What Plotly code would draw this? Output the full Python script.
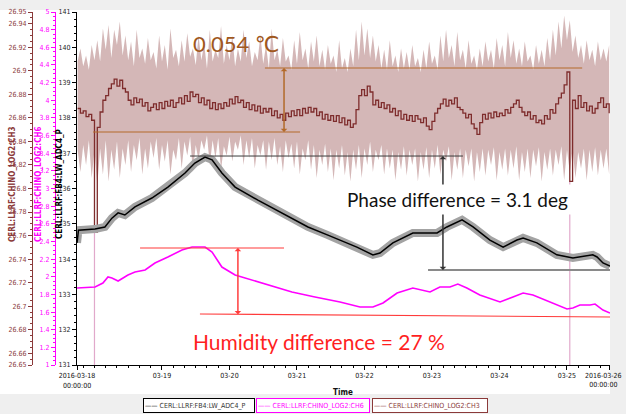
import numpy as np
import pandas as pd
import plotly.graph_objects as go

# ---------------- data ----------------
T0 = pd.Timestamp("2016-03-18 00:00:00")
X_START = "2016-03-17 17:47:00"
X_END = "2016-03-25 15:18:00"

x_tickvals = ["2016-03-17 17:48:00", "2016-03-19", "2016-03-20", "2016-03-21", "2016-03-22",
              "2016-03-23", "2016-03-24", "2016-03-25", "2016-03-25 15:17:00"]
x_ticktext = ["2016-03-18<br>00:00:00", "03-19", "03-20", "03-21", "03-22",
              "03-23", "03-24", "03-25", ""]
x_end_label = "2016-03-26<br>00:00:00"

temp_tickvals = [26.65, 26.66, 26.68, 26.70, 26.72, 26.74, 26.76, 26.78, 26.80, 26.82,
                 26.84, 26.86, 26.88, 26.90, 26.92, 26.94, 26.95]
temp_ticktext = ["26.65", "26.66", "26.68", "26.7", "26.72", "26.74", "26.76", "26.78", "26.8",
                 "26.82", "26.84", "26.86", "26.88", "26.9", "26.92", "26.94", "26.95"]
hum_tickvals = [1, 1.2, 1.4, 1.6, 1.8, 2, 2.2, 2.4, 2.6, 2.8, 3, 3.2, 3.4, 3.6, 3.8, 4,
                4.2, 4.4, 4.6, 4.8, 5]
hum_ticktext = ["1", "1.2", "1.4", "1.6", "1.8", "2", "2.2", "2.4", "2.6", "2.8", "3", "3.2",
                "3.4", "3.6", "3.8", "4", "4.2", "4.4", "4.6", "4.8", "5"]
phase_tickvals = [131, 132, 133, 134, 135, 136, 137, 138, 139, 140, 141]
phase_ticktext = ["131", "132", "133", "134", "135", "136", "137", "138", "139", "140", "141"]

# CH3 temperature, hourly samples from 03-17 18:00 (hour -6) to 03-25 15:00 (hour 183)
temp_hours = list(range(-6, 184))
temp_mean = [
    26.868, 26.864, 26.866, 26.861, 26.863, 26.858, 26.763, 26.852, 26.865, 26.875,
    26.879, 26.885, 26.889, 26.893, 26.887, 26.892, 26.885, 26.882, 26.875, 26.871,
    26.877, 26.873, 26.876, 26.870, 26.873, 26.866, 26.869, 26.872, 26.867, 26.873,
    26.868, 26.874, 26.870, 26.875, 26.869, 26.873, 26.877, 26.872, 26.879, 26.874,
    26.882, 26.878, 26.880, 26.873, 26.877, 26.871, 26.875, 26.868, 26.873, 26.867,
    26.872, 26.868, 26.873, 26.870, 26.876, 26.872, 26.878, 26.873, 26.875, 26.869,
    26.873, 26.867, 26.871, 26.866, 26.870, 26.864, 26.868, 26.865, 26.868, 26.862,
    26.866, 26.860, 26.863, 26.858, 26.864, 26.861, 26.866, 26.862, 26.867, 26.862,
    26.868, 26.864, 26.869, 26.865, 26.868, 26.862, 26.865, 26.859, 26.863, 26.858,
    26.862, 26.857, 26.862, 26.856, 26.860, 26.854, 26.858, 26.852, 26.855, 26.867,
    26.879, 26.884, 26.879, 26.887, 26.882, 26.871, 26.875, 26.869, 26.873, 26.868,
    26.871, 26.865, 26.868, 26.862, 26.866, 26.859, 26.863, 26.858, 26.862, 26.857,
    26.862, 26.859, 26.856, 26.860, 26.853, 26.850, 26.857, 26.864, 26.868, 26.872,
    26.876, 26.870, 26.875, 26.872, 26.877, 26.869, 26.867, 26.864, 26.860, 26.863,
    26.855, 26.851, 26.846, 26.856, 26.863, 26.859, 26.864, 26.860, 26.865, 26.861,
    26.864, 26.862, 26.867, 26.864, 26.869, 26.872, 26.875, 26.869, 26.865, 26.862,
    26.865, 26.859, 26.862, 26.856, 26.858, 26.855, 26.862, 26.859, 26.867, 26.864,
    26.872, 26.877, 26.881, 26.888, 26.899, 26.806, 26.875, 26.868, 26.879, 26.869,
    26.873, 26.866, 26.870, 26.864, 26.868, 26.873, 26.877, 26.869, 26.872, 26.864,
]
temp_max = [
    26.908, 26.919, 26.904, 26.913, 26.901, 26.922, 26.909,
    26.926, 26.908, 26.936, 26.918, 26.939, 26.911, 26.935, 26.922, 26.942, 26.913,
    26.930, 26.909, 26.925, 26.904, 26.935, 26.911, 26.919, 26.906, 26.928, 26.909,
    26.916, 26.902, 26.930, 26.908, 26.922, 26.901, 26.936, 26.911, 26.918, 26.904,
    26.926, 26.908, 26.932, 26.912, 26.919, 26.905, 26.930, 26.909, 26.923, 26.902,
    26.935, 26.908, 26.918, 26.911, 26.938, 26.906, 26.922, 26.909, 26.930, 26.904,
    26.919, 26.908, 26.935, 26.911, 26.925, 26.904, 26.916, 26.909, 26.930, 26.906,
    26.922, 26.902, 26.936, 26.909, 26.918, 26.904, 26.928, 26.908, 26.913, 26.901,
    26.926, 26.906, 26.933, 26.909, 26.919, 26.902, 26.925, 26.908, 26.930, 26.904,
    26.918, 26.901, 26.922, 26.906, 26.913, 26.899, 26.926, 26.902, 26.911, 26.899,
    26.919, 26.904, 26.935, 26.909, 26.942, 26.913, 26.936, 26.911, 26.930, 26.908,
    26.922, 26.902, 26.918, 26.901, 26.926, 26.904, 26.913, 26.899, 26.919, 26.902,
    26.916, 26.901, 26.922, 26.904, 26.911, 26.899, 26.918, 26.902, 26.925, 26.906,
    26.913, 26.901, 26.930, 26.908, 26.935, 26.911, 26.922, 26.904, 26.933, 26.909,
    26.918, 26.902, 26.926, 26.906, 26.913, 26.901, 26.919, 26.904, 26.925, 26.908,
    26.918, 26.902, 26.928, 26.909, 26.922, 26.904, 26.933, 26.911, 26.926, 26.906,
    26.919, 26.904, 26.925, 26.908, 26.913, 26.901, 26.922, 26.906, 26.918, 26.904,
    26.928, 26.909, 26.935, 26.913, 26.942, 26.919, 26.947, 26.926, 26.943, 26.916,
    26.930, 26.911, 26.922, 26.906, 26.926, 26.909, 26.918, 26.904, 26.925, 26.909,
    26.919, 26.908, 26.922,
]
temp_min = [
    26.833, 26.814, 26.837, 26.820, 26.841, 26.809, 26.833,
    26.803, 26.834, 26.812, 26.841, 26.806, 26.833, 26.816, 26.840, 26.809, 26.834,
    26.820, 26.841, 26.814, 26.837, 26.824, 26.843, 26.812, 26.834, 26.817, 26.840,
    26.826, 26.843, 26.816, 26.837, 26.823, 26.841, 26.812, 26.833, 26.824, 26.843,
    26.817, 26.840, 26.828, 26.844, 26.814, 26.837, 26.824, 26.841, 26.833, 26.845,
    26.820, 26.841, 26.826, 26.843, 26.816, 26.836, 26.828, 26.844, 26.823, 26.840,
    26.833, 26.845, 26.820, 26.841, 26.826, 26.843, 26.817, 26.837, 26.828, 26.841,
    26.816, 26.840, 26.824, 26.843, 26.820, 26.836, 26.814, 26.841, 26.826, 26.838,
    26.817, 26.840, 26.812, 26.834, 26.824, 26.841, 26.816, 26.837, 26.809, 26.833,
    26.820, 26.838, 26.814, 26.834, 26.807, 26.833, 26.817, 26.837, 26.811, 26.831,
    26.806, 26.833, 26.816, 26.837, 26.809, 26.834, 26.820, 26.840, 26.814, 26.833,
    26.824, 26.837, 26.812, 26.834, 26.817, 26.833, 26.807, 26.831, 26.816, 26.836,
    26.811, 26.833, 26.820, 26.834, 26.806, 26.831, 26.816, 26.835, 26.809, 26.833,
    26.817, 26.837, 26.812, 26.833, 26.823, 26.836, 26.807, 26.831, 26.816, 26.834,
    26.809, 26.833, 26.819, 26.834, 26.806, 26.831, 26.814, 26.834, 26.811, 26.833,
    26.820, 26.835, 26.807, 26.831, 26.816, 26.834, 26.811, 26.833, 26.817, 26.836,
    26.807, 26.831, 26.814, 26.834, 26.809, 26.833, 26.819, 26.835, 26.806, 26.831,
    26.816, 26.834, 26.811, 26.833, 26.820, 26.836, 26.807, 26.833, 26.814, 26.834,
    26.809, 26.831, 26.817, 26.834, 26.807, 26.833, 26.814, 26.835, 26.811, 26.833,
    26.817, 26.834, 26.812,
]

# FB4 phase (deg)
phase_hours = [-6.2, -5.7, 0.2, 3.7, 6.2, 8.4, 10.8, 14.4, 20.4, 26.1, 32.2, 35.7, 39.3, 41.8,
               45.3, 50.0, 58.1, 66.7, 75.9, 83.0, 88.0, 93.3, 99.0, 101.5, 106.1, 113.2, 121.8,
               125.3, 130.7, 134.6, 140.6, 145.3, 150.2, 152.4, 157.3, 164.4, 170.1, 177.2,
               178.7, 180.8, 183.3]
phase_deg = [134.46, 134.82, 134.85, 134.91, 135.16, 135.31, 135.25, 135.48, 135.73, 136.04,
             136.44, 136.72, 136.89, 136.81, 136.44, 136.04, 135.67, 135.31, 134.91, 134.68,
             134.51, 134.34, 134.12, 134.17, 134.46, 134.74, 134.74, 134.91, 135.11, 134.91,
             134.54, 134.34, 134.54, 134.60, 134.46, 134.12, 134.03, 134.12, 134.06, 133.89,
             133.80]

# CH6 humidity
hum_hours = [-6.2, 0.2, 3.0, 4.8, 6.2, 8.4, 11.9, 14.4, 18.0, 21.5, 26.1, 31.1, 34.7, 39.3,
             41.8, 45.3, 50.0, 56.0, 61.7, 70.2, 78.4, 87.3, 94.4, 99.0, 102.6, 107.6, 113.2,
             119.3, 122.8, 126.4, 129.2, 132.4, 137.0, 144.2, 148.8, 152.4, 155.9, 163.0,
             168.0, 170.1, 172.6, 176.2, 178.0, 180.8, 183.3]
hum_val = [1.873, 1.884, 1.929, 1.997, 1.986, 1.952, 2.020, 2.054, 2.077, 2.156, 2.224, 2.303,
           2.337, 2.337, 2.280, 2.110, 2.020, 1.963, 1.907, 1.827, 1.771, 1.714, 1.657, 1.657,
           1.703, 1.816, 1.873, 1.827, 1.884, 1.884, 1.918, 1.873, 1.793, 1.714, 1.771, 1.816,
           1.793, 1.703, 1.635, 1.646, 1.680, 1.680, 1.691, 1.623, 1.589]

glitch_hours = [0, 169]

assert len(temp_mean) == len(temp_hours) == len(temp_max) == len(temp_min)
assert len(phase_hours) == len(phase_deg)
assert len(hum_hours) == len(hum_val)


def at(h):
    return (T0 + pd.to_timedelta(h, unit="h")).strftime("%Y-%m-%d %H:%M:%S")


def times(hs):
    return [at(h) for h in hs]


# ---------------- styling ----------------
W, H = 626, 414
NARROW = "Liberation Sans Narrow, DejaVu Sans Condensed, Arial Narrow, Liberation Sans, Arial"
TXT = "Lato, Open Sans, DejaVu Sans, sans-serif"
C_T = "#8b3a3a"
C_TLINE = "#7e2c2c"
C_H = "#ff00ff"
C_P = "#000000"


def px(x):
    return x / W


def py(y):
    return 1 - y / H


XD = [px(77), px(610)]
YD = [py(365), py(12)]

fig = go.Figure()

tt = times(temp_hours)
fig.add_trace(go.Scatter(x=tt, y=temp_max, mode="lines", line=dict(width=0),
                         xaxis="x", yaxis="y", hoverinfo="skip"))
fig.add_trace(go.Scatter(x=tt, y=temp_min, mode="lines", line=dict(width=0),
                         fill="tonexty", fillcolor="rgba(160,95,95,0.45)",
                         xaxis="x", yaxis="y", hoverinfo="skip"))
fig.add_trace(go.Scatter(x=tt, y=temp_mean, mode="lines", line=dict(color=C_TLINE, width=1.3, shape="hv"),
                         xaxis="x", yaxis="y", name="CERL:LLRF:CHINO_LOG2:CH3"))
fig.add_trace(go.Scatter(x=times(hum_hours), y=hum_val, mode="lines",
                         line=dict(color=C_H, width=1.6), xaxis="x", yaxis="y2",
                         name="CERL:LLRF:CHINO_LOG2:CH6"))
fig.add_trace(go.Scatter(x=times(phase_hours), y=phase_deg, mode="lines",
                         line=dict(color="#a3a3a3", width=8), xaxis="x", yaxis="y3",
                         hoverinfo="skip"))
fig.add_trace(go.Scatter(x=times(phase_hours), y=phase_deg, mode="lines",
                         line=dict(color=C_P, width=1.5), xaxis="x", yaxis="y3",
                         name="CERL:LLRF:FB4:LW_ADC4_P"))
# empty trace to host the full-page pixel overlay axes used for placing text
fig.add_trace(go.Scatter(x=[], y=[], xaxis="x2", yaxis="y4", hoverinfo="skip"))


def yax(color, rng, tv, ttx, pos, minor_dtick, anchor="free"):
    d = dict(domain=YD, range=rng, showgrid=False, zeroline=False, showline=True,
             linecolor=color, linewidth=1, ticks="outside", ticklen=4, tickcolor=color,
             tickmode="array", tickvals=tv, ticktext=ttx, automargin=False,
             tickfont=dict(family=NARROW, size=7, color=color),
             minor=dict(ticks="outside", ticklen=2, tickcolor=color, tickmode="linear",
                        tick0=rng[0], dtick=minor_dtick),
             side="left", fixedrange=True)
    if anchor == "free":
        d["anchor"] = "free"
        d["position"] = pos
    else:
        d["anchor"] = anchor
    return d


layout_y = yax(C_T, [26.65, 26.95], temp_tickvals, temp_ticktext, px(32), 0.005)
layout_y2 = yax(C_H, [1, 5], hum_tickvals, hum_ticktext, px(55), 0.05)
layout_y2["overlaying"] = "y"
layout_y3 = yax("#000000", [131, 141], phase_tickvals, phase_ticktext, None, 0.2, anchor="x")
layout_y3["overlaying"] = "y"
layout_y3["tickfont"]["color"] = "#222222"

shapes = []
annotations = []

# background: white panel, grey frame
shapes.append(dict(type="rect", xref="paper", yref="paper", x0=0, x1=px(610), y0=py(394),
                   y1=py(10), fillcolor="white", line=dict(width=0), layer="below"))

# glitch markers (light pink verticals)
for gh in glitch_hours:
    gv = temp_mean[temp_hours.index(gh)]
    shapes.append(dict(type="line", xref="x", yref="y", x0=at(gh), x1=at(gh), y0=26.65, y1=gv,
                       line=dict(color="rgba(215,140,185,0.75)", width=1.2), layer="below"))

# temperature difference
C_O = "#b36a2a"
shapes.append(dict(type="line", xref="x", yref="y", x0=at(60.6), x1=at(173.4), y0=26.9024,
                   y1=26.9024, line=dict(color=C_O, width=1.2)))
shapes.append(dict(type="line", xref="x", yref="y", x0=at(-0.5), x1=at(73.1), y0=26.848,
                   y1=26.848, line=dict(color=C_O, width=1.2)))

# phase difference
shapes.append(dict(type="line", xref="x", yref="y3", x0=at(34.0), x1=at(131.0), y0=136.92,
                   y1=136.92, line=dict(color="#3a3a3a", width=1)))
shapes.append(dict(type="line", xref="x", yref="y3", x0=at(118.6), x1=at(183.3), y0=133.69,
                   y1=133.69, line=dict(color="#8a8a8a", width=2)))

# humidity difference
C_R = "#ff3b3b"
shapes.append(dict(type="line", xref="x", yref="y2", x0=at(16.2), x1=at(67.4), y0=2.326,
                   y1=2.326, line=dict(color=C_R, width=1.2)))
shapes.append(dict(type="line", xref="x", yref="y2", x0=at(37.5), x1=at(183.3), y0=1.578,
                   y1=1.544, line=dict(color=C_R, width=1.2)))


def darrow(h, ytop, ybot, yref, color):
    for y, ay in [(ytop, ybot), (ybot, ytop)]:
        annotations.append(dict(x=at(h), y=y, ax=at(h), ay=ay, xref="x", yref=yref,
                                axref="x", ayref=yref, showarrow=True, arrowhead=1,
                                arrowsize=1.1, arrowwidth=1, arrowcolor=color, text=""))


darrow(67.4, 26.9024, 26.848, "y", C_O)
darrow(123.9, 136.92, 133.69, "y3", "#333333")
darrow(51.0, 2.326, 1.574, "y2", C_R)


def label(xpix, ypix, text, font, **kw):
    d = dict(x=xpix, y=ypix, xref="x2", yref="y4", showarrow=False, text=text,
             font=font, yanchor="middle", xanchor="center")
    d.update(kw)
    annotations.append(d)


label(236, 43, "0.054 ℃", dict(family=TXT, size=22, color="#a0581e"))
label(457, 199, "Phase difference = 3.1 deg", dict(family=TXT, size=19, color="#111111"),
      bgcolor="white", borderpad=3)
label(319, 341, "Humidity difference = 27 %", dict(family=TXT, size=21, color="#ff1f1f"))

# axis titles
for xx, txt, col in [(12, "CERL:LLRF:CHINO_LOG2:CH3", C_T), (38, "CERL:LLRF:CHINO_LOG2:CH6", C_H),
                     (59, "CERL:LLRF:FB4:LW_ADC4_P", "#000000")]:
    label(xx, 184, "<b>" + txt + "</b>", dict(family=NARROW, size=8, color=col), textangle=-90)
label(343, 392, "<b>Time</b>", dict(family=NARROW, size=8, color="#111111"))
label(603, 380, x_end_label, dict(family=NARROW, size=7, color="#111111"))

# legend boxes
for x0, wd, name, col in [(143, 108, "CERL:LLRF:FB4:LW_ADC4_P", "#000000"),
                          (256, 110, "CERL:LLRF:CHINO_LOG2:CH6", C_H),
                          (372, 112, "CERL:LLRF:CHINO_LOG2:CH3", C_T)]:
    label(x0, 405, "<span style='color:%s'>——</span> %s" % (col, name),
          dict(family=NARROW, size=7, color=col if col != "#000000" else "#333333"),
          xanchor="left", align="left", width=wd, height=11,
          bordercolor=col, borderwidth=1, borderpad=1, bgcolor="white")

fig.update_layout(
    template="none",
    width=W, height=H, autosize=False,
    margin=dict(l=0, r=0, t=0, b=0, autoexpand=False),
    paper_bgcolor="#efefef", plot_bgcolor="rgba(0,0,0,0)",
    showlegend=False,
    xaxis=dict(domain=XD, range=[X_START, X_END], type="date", showgrid=False, zeroline=False,
               showline=True, linecolor="#000000", linewidth=1, ticks="outside", ticklen=4,
               tickcolor="#000000", tickmode="array", tickvals=x_tickvals, ticktext=x_ticktext,
               tickfont=dict(family=NARROW, size=7, color="#111111"), automargin=False,
               ticklabeloverflow="allow",
               minor=dict(ticks="outside", ticklen=2, tickcolor="#000000", tickmode="linear",
                          tick0="2016-03-18", dtick=4 * 3600 * 1000),
               anchor="y3", fixedrange=True),
    yaxis=layout_y, yaxis2=layout_y2, yaxis3=layout_y3,
    xaxis2=dict(domain=[0, 1], range=[0, W], anchor="y4", visible=False, fixedrange=True,
                automargin=False, showgrid=False, zeroline=False),
    yaxis4=dict(domain=[0, 1], range=[H, 0], anchor="x2", visible=False, fixedrange=True,
                automargin=False, showgrid=False, zeroline=False),
    shapes=shapes, annotations=annotations,
)

fig.write_html("out.html", config={"displayModeBar": False},
               post_script="document.body.style.margin='0';document.body.style.padding='0';"
                           "document.body.style.background='#efefef';")
